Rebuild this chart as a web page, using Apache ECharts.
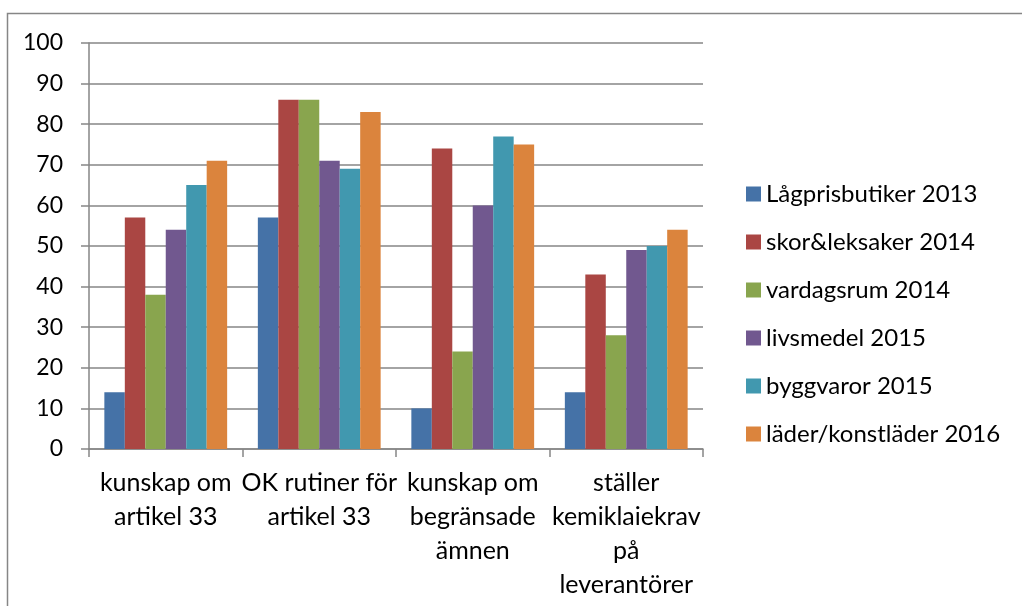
<!DOCTYPE html>
<html>
<head>
<meta charset="utf-8">
<script src="https://cdn.jsdelivr.net/npm/echarts@6/dist/echarts.min.js"></script>
<style>
html,body{margin:0;padding:0;background:#fff;}
#c{width:1022px;height:606px;}
</style>
</head>
<body>
<div id="c"></div>
<script>
var categories = ["kunskap om\nartikel 33", "OK rutiner för\nartikel 33", "kunskap om\nbegränsade\nämnen", "ställer\nkemiklaiekrav\npå\nleverantörer"];
var seriesNames = ["Lågprisbutiker 2013", "skor&leksaker 2014", "vardagsrum 2014", "livsmedel 2015", "byggvaror 2015", "läder/konstläder 2016"];
var lagpris2013 = [14, 57, 10, 14];
var skor2014 = [57, 86, 74, 43];
var vardagsrum2014 = [38, 86, 24, 28];
var livsmedel2015 = [54, 71, 60, 49];
var byggvaror2015 = [65, 69, 77, 50];
var lader2016 = [71, 83, 75, 54];
var colors = ['#4572A7', '#AA4643', '#89A54E', '#71588F', '#4198AF', '#DB843D'];

var allValues = [lagpris2013, skor2014, vardagsrum2014, livsmedel2015, byggvaror2015, lader2016];
var chart = echarts.init(document.getElementById('c'), null, {renderer: 'canvas'});
var font = 'Lato, "Open Sans", sans-serif';
var series = seriesNames.map(function (n, i) {
  return {
    name: n,
    type: 'bar',
    data: allValues[i],
    barGap: '0%',
    barCategoryGap: '20%',
    itemStyle: {color: colors[i]}
  };
});
chart.setOption({
  animation: false,
  color: colors,
  graphic: [{
    type: 'rect',
    shape: {x: 7.5, y: 13.5, width: 1100, height: 700},
    style: {fill: 'none', stroke: '#868686', lineWidth: 1.5},
    silent: true
  }],
  grid: {left: 89, right: 319, top: 43, bottom: 157, containLabel: false},
  legend: {
    orient: 'vertical',
    left: 746,
    top: 182,
    padding: 0,
    itemWidth: 15,
    itemHeight: 15,
    itemGap: 24,
    icon: 'rect',
    textStyle: {fontFamily: font, fontSize: 24, lineHeight: 24, color: '#000'},
    data: seriesNames
  },
  xAxis: {
    type: 'category',
    data: categories,
    axisLine: {show: true, lineStyle: {color: '#868686', width: 1.5}},
    axisTick: {show: true, length: 8, lineStyle: {color: '#868686', width: 1.5}},
    axisLabel: {
      interval: 0,
      margin: 17,
      color: '#000',
      fontFamily: font,
      fontSize: 25,
      lineHeight: 34
    }
  },
  yAxis: {
    type: 'value',
    min: 0,
    max: 100,
    interval: 10,
    axisLine: {show: true, lineStyle: {color: '#868686', width: 1.5}},
    axisTick: {show: true, length: 8, lineStyle: {color: '#868686', width: 1.5}},
    splitLine: {show: true, lineStyle: {color: '#868686', width: 1.5}},
    axisLabel: {margin: 26, color: '#000', fontFamily: font, fontSize: 23}
  },
  series: series
});
</script>
</body>
</html>
